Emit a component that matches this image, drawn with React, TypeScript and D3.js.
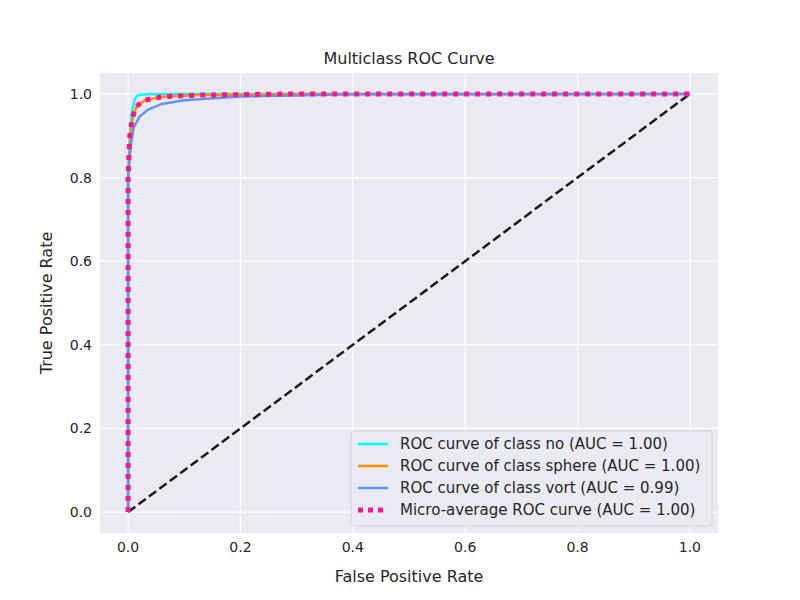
import React from 'react';
import * as d3 from 'd3';

const xTicks = [0, 0.2, 0.4, 0.6, 0.8, 1.0];
const yTicks = [0, 0.2, 0.4, 0.6, 0.8, 1.0];

const fprNo = [0, 0, 0.003, 0.006, 0.01, 0.014, 0.02, 0.04, 0.1, 1];
const tprNo = [0, 0.8, 0.9, 0.95, 0.98, 0.993, 0.998, 0.999, 1, 1];
const fprSphere = [0, 0, 0.004, 0.008, 0.015, 0.03, 0.06, 0.12, 0.3, 1];
const tprSphere = [0, 0.8, 0.9, 0.94, 0.97, 0.985, 0.993, 0.997, 1, 1];
const fprVort = [0, 0, 0.005, 0.01, 0.02, 0.035, 0.06, 0.1, 0.2, 0.4, 1];
const tprVort = [0, 0.8, 0.88, 0.92, 0.945, 0.962, 0.976, 0.985, 0.994, 0.999, 1];
const fprMicro = [0, 0, 0.003, 0.007, 0.014, 0.03, 0.06, 0.12, 0.3, 1];
const tprMicro = [0, 0.8, 0.9, 0.94, 0.97, 0.985, 0.993, 0.997, 1, 1];

const series = [
  { label: 'ROC curve of class no (AUC = 1.00)', color: '#00ffff', x: fprNo, y: tprNo, dash: '' },
  { label: 'ROC curve of class sphere (AUC = 1.00)', color: '#ff8c00', x: fprSphere, y: tprSphere, dash: '' },
  { label: 'ROC curve of class vort (AUC = 0.99)', color: '#6495ed', x: fprVort, y: tprVort, dash: '' },
  { label: 'Micro-average ROC curve (AUC = 1.00)', color: '#ff1493', x: fprMicro, y: tprMicro, dash: '5 6' },
];

export default function App() {
  const left = 100, right = 718, top = 73, bottom = 533;
  const x = d3.scaleLinear().domain([-0.05, 1.05]).range([left, right]);
  const y = d3.scaleLinear().domain([-0.05, 1.05]).range([bottom, top]);
  const line = d3.line<[number, number]>().x(d => x(d[0])).y(d => y(d[1]));
  const font = 'DejaVu Sans, sans-serif';
  return (
    <svg width={800} height={600} style={{ position: 'absolute', left: 0, top: 0 }} fontFamily={font}>
      <rect width={800} height={600} fill="#fff" />
      <rect x={left} y={top} width={right - left} height={bottom - top} fill="#eaeaf2" />
      {xTicks.map(t => <line key={'gx' + t} x1={x(t)} x2={x(t)} y1={top} y2={bottom} stroke="#fff" strokeWidth={1.2} />)}
      {yTicks.map(t => <line key={'gy' + t} x1={left} x2={right} y1={y(t)} y2={y(t)} stroke="#fff" strokeWidth={1.2} />)}
      <defs><clipPath id="c"><rect x={left} y={top} width={right - left} height={bottom - top} /></clipPath></defs>
      <g clipPath="url(#c)">
        <path d={line([[0, 0], [1, 1]]) || ''} stroke="#1a1a1a" strokeWidth={2.5} strokeDasharray="9 4" fill="none" />
        {series.map(s => (
          <path key={s.label} d={line(s.x.map((v, i) => [v, s.y[i]] as [number, number])) || ''}
            stroke={s.color} strokeWidth={s.dash ? 5 : 2.5} strokeDasharray={s.dash || undefined} fill="none" />
        ))}
      </g>
      {xTicks.map(t => <text key={'tx' + t} x={x(t)} y={bottom + 19} fontSize={14} textAnchor="middle" fill="#262626">{t.toFixed(1)}</text>)}
      {yTicks.map(t => <text key={'ty' + t} x={left - 8} y={y(t) + 5} fontSize={14} textAnchor="end" fill="#262626">{t.toFixed(1)}</text>)}
      <text x={(left + right) / 2} y={582} fontSize={16} textAnchor="middle" fill="#262626">False Positive Rate</text>
      <text transform={`translate(52,${(top + bottom) / 2}) rotate(-90)`} fontSize={16} textAnchor="middle" fill="#262626">True Positive Rate</text>
      <text x={(left + right) / 2} y={64} fontSize={16} textAnchor="middle" fill="#262626">Multiclass ROC Curve</text>
      <rect x={351} y={431} width={361} height={95} rx={3} fill="#eaeaf2" stroke="#d0d0d8" opacity={0.9} />
      {series.map((s, i) => (
        <g key={'l' + i} transform={`translate(0,${444 + i * 22})`}>
          <line x1={358} x2={388} y1={0} y2={0} stroke={s.color} strokeWidth={s.dash ? 5 : 2.5} strokeDasharray={s.dash ? '5 5' : undefined} />
          <text x={400} y={5} fontSize={15} fill="#262626">{s.label}</text>
        </g>
      ))}
    </svg>
  );
}
